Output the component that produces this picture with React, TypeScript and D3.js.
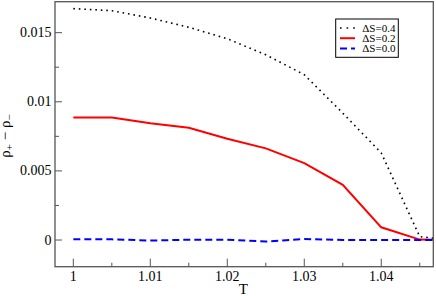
import React from "react";
import * as d3 from "d3";

const T = [1, 1.005, 1.01, 1.015, 1.02, 1.025, 1.03, 1.035, 1.04, 1.045, 1.047];
const s04 = [0.01674, 0.01659, 0.01606, 0.01539, 0.01456, 0.0134, 0.01196, 0.00918, 0.0063, 0.00024, 0.00012];
const s02 = [0.00886, 0.00886, 0.00845, 0.00812, 0.00733, 0.00663, 0.00556, 0.00399, 0.00092, 0.00003, 0.00002];
const s00 = [0.00005, 0.00005, -0.00004, 0.00002, 0.00002, -0.00011, 0.00007, 0.00001, 0.00001, 0.00001, 0.00001];
const xTicks = [1, 1.01, 1.02, 1.03, 1.04];
const xMinor = [1.005, 1.015, 1.025, 1.035, 1.045];
const yTicks = [0, 0.005, 0.01, 0.015];
const yMinor = [0.0025, 0.0075, 0.0125];
const xTickLabels = ["1", "1.01", "1.02", "1.03", "1.04"];
const yTickLabels = ["0", "0.005", "0.01", "0.015"];
const legendLabels = ["ΔS=0.4", "ΔS=0.2", "ΔS=0.0"];

const W = 436, H = 296;
const L = 55, R = 433.3, TOP = 1.7, B = 266.7;

export default function App() {
  const x = d3.scaleLinear().domain([0.99762, 1.04676]).range([L, R]);
  const y = d3.scaleLinear().domain([-0.00193, 0.01724]).range([B, TOP]);
  const line = (vals: number[]) =>
    d3.line<number>().x((_, i) => x(T[i])).y((v) => y(v))(vals) || "";
  const series = [
    { vals: s04, color: "#000", width: 1.6, dash: "1.6 3.9", cap: "butt" },
    { vals: s02, color: "#ff0000", width: 2, dash: undefined, cap: "butt" },
    { vals: s00, color: "#0000ff", width: 2, dash: "7 4", cap: "butt" },
  ];
  const axisColor = "#555";
  return (
    <svg width={W} height={H} className="chart"
      style={{ position: "absolute", left: 0, top: 0, background: "#fff", fontFamily: '"Liberation Serif", "Times New Roman", Times, serif' }}>
      <style>{`.chart text { font-family: "Liberation Serif", "Times New Roman", Times, serif; }`}</style>
      <defs>
        <clipPath id="clip">
          <rect x={L} y={TOP} width={R - L} height={B - TOP} />
        </clipPath>
      </defs>
      <rect x={0} y={0} width={W} height={H} fill="#fff" />
      <g clipPath="url(#clip)">
        {series.map((s, i) => (
          <path key={i} d={line(s.vals)} fill="none" stroke={s.color} strokeWidth={s.width}
            strokeDasharray={s.dash} strokeLinecap={s.cap as any} />
        ))}
      </g>
      <rect x={L} y={TOP} width={R - L} height={B - TOP} fill="none" stroke={axisColor} strokeWidth={1.3} />
      {xTicks.map((t, i) => (
        <g key={"xt" + i}>
          <line x1={x(t)} x2={x(t)} y1={B} y2={B - 8} stroke={axisColor} strokeWidth={1} />
          <text x={x(t)} y={281} textAnchor="middle" fontSize={14}>{xTickLabels[i]}</text>
        </g>
      ))}
      {xMinor.map((t, i) => (
        <line key={"xm" + i} x1={x(t)} x2={x(t)} y1={B} y2={B - 4} stroke={axisColor} strokeWidth={1} />
      ))}
      {yTicks.map((t, i) => (
        <g key={"yt" + i}>
          <line x1={L} x2={L + 7} y1={y(t)} y2={y(t)} stroke={axisColor} strokeWidth={1} />
          <text x={51.5} y={y(t) + 4.5} textAnchor="end" fontSize={14}>{yTickLabels[i]}</text>
        </g>
      ))}
      {yMinor.map((t, i) => (
        <line key={"ym" + i} x1={L} x2={L + 4} y1={y(t)} y2={y(t)} stroke={axisColor} strokeWidth={1} />
      ))}
      <text x={243.3} y={294} textAnchor="middle" fontSize={15}>T</text>
      <text transform="translate(9.5,136) rotate(-90)" textAnchor="middle" fontSize={15}>
        ρ<tspan dy={3} fontSize={11}>+</tspan><tspan dy={-3}> − ρ</tspan><tspan dy={3} fontSize={11}>−</tspan>
      </text>
      <g>
        <rect x={335.7} y={19} width={62.6} height={38.3} fill="#fff" stroke="#000" strokeWidth={1} />
        {series.map((s, i) => {
          const yy = 28 + i * 10.2;
          return (
            <g key={"lg" + i}>
              <line x1={340} x2={355} y1={yy} y2={yy} stroke={s.color} strokeWidth={s.width}
                strokeDasharray={i === 0 ? "1.6 5" : s.dash} strokeLinecap={s.cap as any} />
              <text x={362.3} y={yy + 4} fontSize={11}>{legendLabels[i]}</text>
            </g>
          );
        })}
      </g>
    </svg>
  );
}
